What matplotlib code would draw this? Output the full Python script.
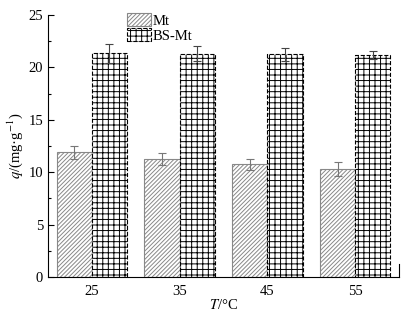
import matplotlib
matplotlib.use("Agg")
import matplotlib.pyplot as plt
from matplotlib.ticker import MultipleLocator
import numpy as np

temps = ["25", "35", "45", "55"]
mt = [11.9, 11.25, 10.75, 10.3]
mt_err = [0.6, 0.55, 0.5, 0.65]
bs = [21.35, 21.3, 21.25, 21.2]
bs_err = [0.9, 0.7, 0.65, 0.4]

plt.rcParams.update({"font.family": ["Liberation Serif", "DejaVu Serif"],
                     "font.size": 10.5, "hatch.linewidth": 0.7, "mathtext.fontset": "stix"})

fig = plt.figure(figsize=(4.09, 3.14), dpi=100)
ax = fig.add_axes([0.117, 0.118, 0.859, 0.834])
x = np.arange(len(temps))
w = 0.4
plt.rcParams["hatch.color"] = "#1a1a1a"
ax.bar(x - w / 2, mt, w, color="white", edgecolor="#888888", hatch="////////", lw=0.8, label="Mt")
ax.errorbar(x - w / 2, mt, yerr=mt_err, fmt="none", ecolor="#777777", elinewidth=0.8, capsize=3, capthick=0.8)
plt.rcParams["hatch.color"] = "#222222"
ax.bar(x + w / 2, bs, w, color="white", edgecolor="black", hatch="+++", lw=0.8, ls="--", label="BS-Mt")
ax.errorbar(x + w / 2, bs, yerr=bs_err, fmt="none", ecolor="#444444", elinewidth=0.8, capsize=3, capthick=0.8)

ax.set_xlim(-0.5, 3.5)
ax.set_ylim(0, 25)
ax.set_xticks(x)
ax.set_xticklabels(temps)
ax.yaxis.set_major_locator(MultipleLocator(5))
ax.yaxis.set_minor_locator(MultipleLocator(2.5))
ax.tick_params(axis="y", which="both", direction="in", width=0.8)
ax.tick_params(axis="y", which="major", length=4)
ax.tick_params(axis="y", which="minor", length=2)
ax.tick_params(axis="x", length=0, pad=6)
ax.spines[["top", "right"]].set_visible(False)
ax.axvline(3.5, ymax=0.05, color="black", lw=0.8, clip_on=False)
ax.set_ylabel(r"$q$/(mg·g$^{-1}$)", labelpad=2)
ax.set_xlabel(r"$T$/°C", labelpad=0)
ax.legend(loc="upper left", bbox_to_anchor=(0.21, 1.03), frameon=False, handlelength=1.6,
          handleheight=1.0, handletextpad=0.1, labelspacing=0.05, borderaxespad=0, fontsize=10.5)
fig.savefig("out.png", dpi=100)
